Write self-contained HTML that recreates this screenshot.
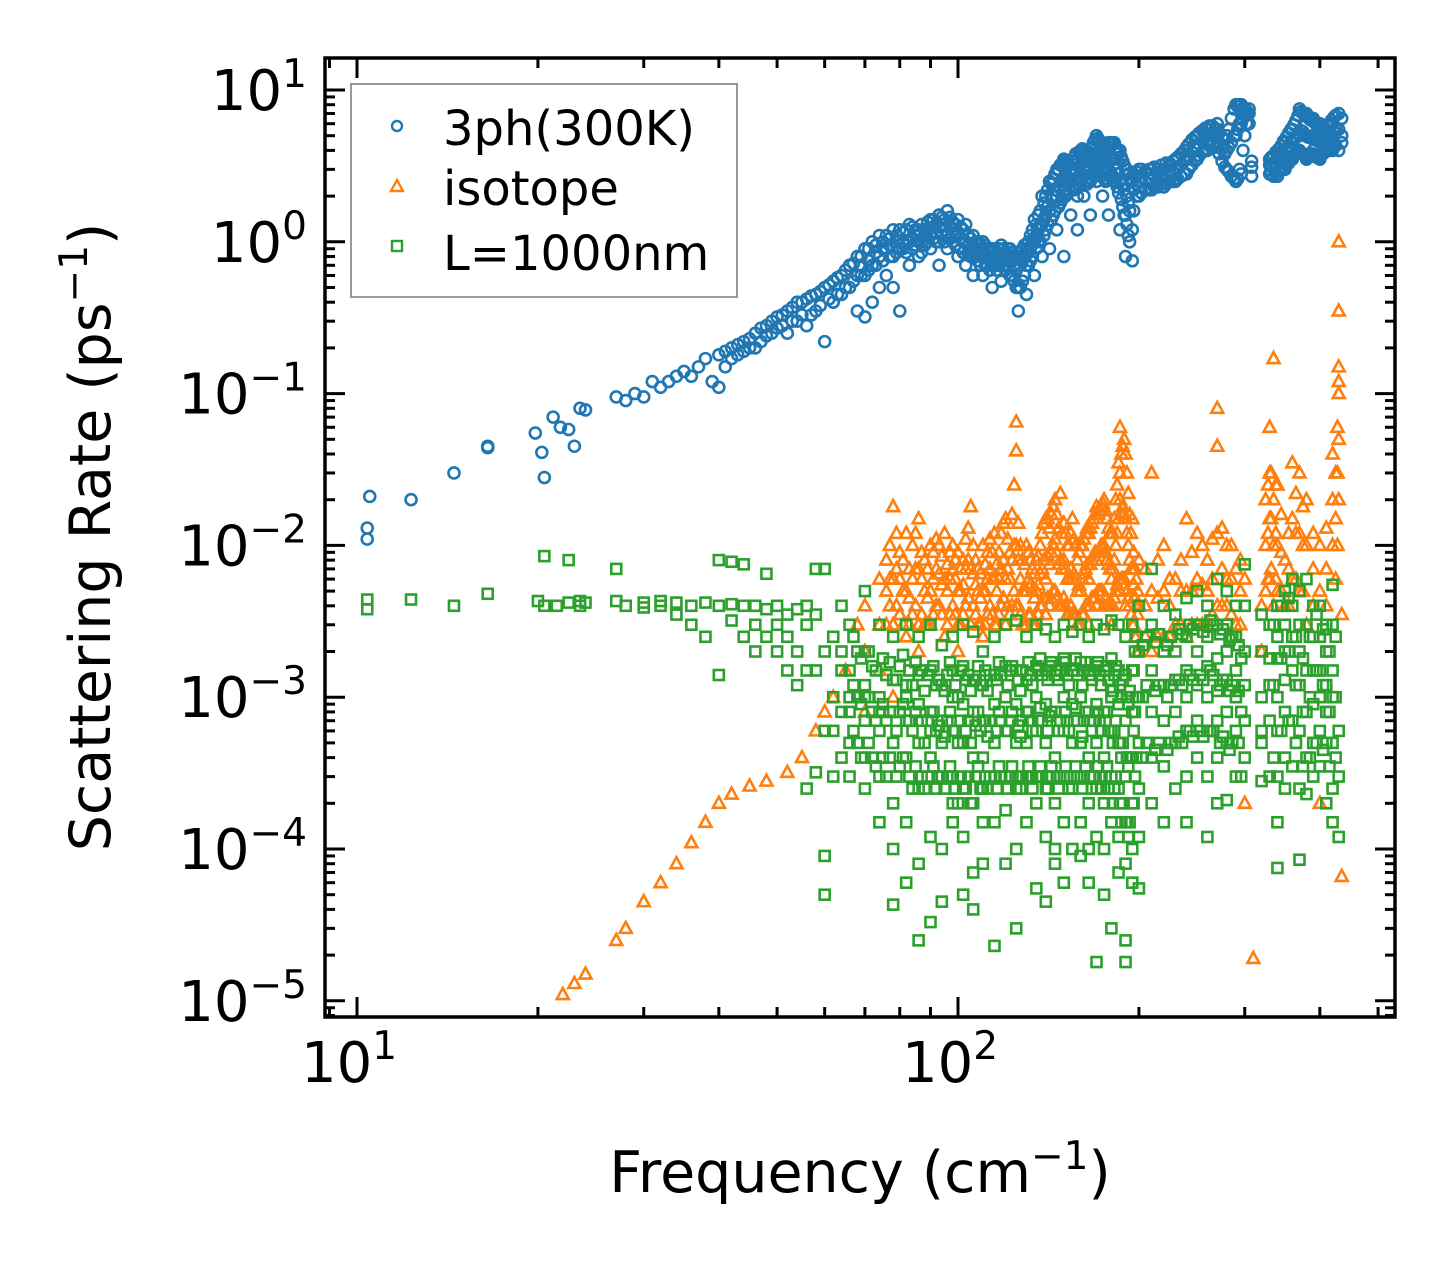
<!DOCTYPE html>
<html><head><meta charset="utf-8">
<style>
html,body{margin:0;padding:0;background:#fff;}
svg{display:block;}
text{font-family:"DejaVu Sans","Liberation Sans",sans-serif;fill:#000;}
</style></head>
<body>
<svg id="chart" width="1455" height="1265" viewBox="0 0 1455 1265" xmlns="http://www.w3.org/2000/svg">
<rect width="1455" height="1265" fill="#fff"/>
<g id="marks"></g>
<g id="ticks"></g>
<rect x="325" y="58" width="1070" height="959" fill="none" stroke="#000" stroke-width="3.5"/>
<g id="xlabels"></g>
<g id="ylabels"></g>
<text x="860" y="1192" font-size="57" text-anchor="middle">Frequency (cm<tspan dy="-23" font-size="39">−1</tspan><tspan dy="23">)</tspan></text>
<text transform="translate(110,537) rotate(-90)" font-size="57" text-anchor="middle">Scattering Rate (ps<tspan dy="-23" font-size="39">−1</tspan><tspan dy="23">)</tspan></text>
<g>
<rect x="351" y="84" width="386" height="213" fill="#fff" stroke="#999" stroke-width="2"/>
<circle cx="397" cy="126" r="5" fill="none" stroke="#1f77b4" stroke-width="2.4"/>
<text x="443" y="145" font-size="48">3ph(300K)</text>
<path d="M397,180 L403,191 L391,191 Z" fill="none" stroke="#ff7f0e" stroke-width="2.4"/>
<text x="443" y="205" font-size="48">isotope</text>
<rect x="392" y="241" width="10" height="10" fill="none" stroke="#2ca02c" stroke-width="2.4"/>
<text x="443" y="270" font-size="48">L=1000nm</text>
</g>
</svg>
<script>
// ---- data ----
const xTickDecades=[1,2];
const yTickDecades=[1,0,-1,-2,-3,-4,-5];
const blueX=[10.4,10.5,12.3,14.5,16.5,19.8,20.3,20.5,21.2,21.8,22.5,23,23.5,24,27,28,29,30,31,32,33,34,35,36,37,38,39,
40,42,44,46,48,50,52,54,56,58,60,62,64,66,68,70,72,74,76,78,80,83,86,90,93,96,100,103,106,110,114,118,122,126,130,134,138,142,146,150,154,158,162,166,170,174,178,182,186,190,195,200,210,220,230,240,250,260,270,280,290,296,305,330,340,350,360,370,380,390,400,410,420,430,435];
const blueY=[[0.011,0.013],[0.021],[0.02],[0.03],[0.045,0.044],[0.055],[0.041],[0.028],[0.07],[0.06],[0.058],[0.045],[0.08],[0.078],[0.095],[0.09],[0.1],[0.095],[0.12],[0.11],[0.12],[0.13],[0.14],[0.13],[0.15],[0.17],[0.12],
[0.11,0.18],[0.17,0.2],[0.19,0.22],[0.2,0.25],[0.24,0.28],[0.27,0.32],[0.25,0.35],[0.3,0.4],[0.28,0.42],[0.35,0.45],[0.22,0.5],[0.4,0.55],[0.45,0.6],[0.5,0.7],[0.35,0.8,0.6],[0.32,0.9,0.6],[0.4,1.0,0.7],[0.5,1.1,0.8],[0.6,1.1,0.9],[0.8,1.2,0.5],[0.35,1.2,0.9],[0.7,1.3,1.0],[0.8,1.2,1.0],[0.9,1.4,1.1],[0.7,1.5,1.0],[1.1,1.6,0.9],[0.8,1.4,1.1],[0.7,1.3,1.0],[0.6,1.1,0.9],[0.6,1.0,0.8],[0.5,0.9,0.7],[0.55,0.95,0.8],[0.6,0.9,0.75],[0.35,0.8,0.5],[0.45,0.9,0.7],[0.6,1.4,1.0],[0.8,2.0,1.3],[0.9,2.5,1.6],[1.2,3.0,2.0],[0.8,3.5,2.2],[1.5,3.0,2.5],[1.2,3.5,2.0],[2,4,3],[1.5,3.5,2.5],[2.5,5,3.5],[2,4.5,3],[1.5,4.5,3],[2.5,4.5,3.5],[1.2,4,2.5],[0.8,3,1.5],[0.75,2.5,1.2],[2,3,2.5],[2.2,3,2.6],[2.3,3,2.6],[2.5,3.5,3],[2.8,4.2,3.5],[3.5,5,4.2],[4,5.5,5],[4.5,6,5.5],[3,5,4],[2.5,8,5],[2.8,8,6],[6,7.5,7],[2.8,3.5,3.2],[2.7,3.8,3.2],[3,4.5,3.5],[3.5,5.5,4.5],[4,7.5,5],[3.5,7,5],[4,6.5,5],[3.5,6,4.5],[4,5.5,4.5],[4,6,5],[4,7,5.5],[4.5,6.5,5]];
const blueX2=[41,43,45,47,49,51,53,55,57,59,61,63,65,67,69,71,73,75,77,79,81,82,84,85,87,88,89,91,92,94,95,97,98,99,101,102,104,105,107,108,109,111,112,113,115,116,117,119,120,121,123,124,125,127,128,129,131,132,133,135,136,137,139,140,141,143,144,145,147,148,149,151,152,153,155,156,157,159,160,161,163,164,165,167,168,169,171,172,173,175,176,177,179,180,181,183,184,185,187,188,189,191,192,193,196,198,202,205,208,212,215,218,222,225,228,232,235,238,242,245,248,252,255,258,262,265,268,272,275,278,282,285,288,292,294,298,300,302,308,332,335,338,342,345,348,352,355,358,362,365,368,372,375,378,382,385,388,392,395,398,402,405,408,412,415,418,422,425,428,432];
const blueY2=[[0.15,0.19],[0.18,0.21],[0.2,0.23],[0.22,0.27],[0.25,0.3],[0.28,0.33],[0.3,0.37],[0.33,0.4],[0.33,0.44],[0.38,0.47],[0.42,0.52],[0.45,0.58],[0.5,0.65],[0.55,0.72],[0.6,0.8,0.7],[0.65,0.9,0.75],[0.7,0.95,0.85],[0.75,1.0,0.9],[0.8,1.05,0.95],[0.85,1.1,1.0],[0.9,1.15,1.0],[0.95,1.2,0.85],[0.9,1.25,1.05],[0.95,1.1,1.2],[1.0,1.3,0.85],[0.95,1.2,1.1],[1.0,1.35,1.2],[1.05,1.4,1.25],[1.0,1.3,1.15],[1.1,1.45,1.3],[1.0,1.4,1.2],[1.05,1.45,1.25],[1.0,1.35,1.2],[0.95,1.3,1.15],[0.9,1.25,1.05],[0.85,1.2,1.0],[0.85,1.1,0.95],[0.8,1.05,0.9],[0.8,1.0,0.9],[0.75,1.0,0.85],[0.7,0.95,0.85],[0.7,0.95,0.8],[0.7,0.9,0.8],[0.65,0.9,0.75],[0.7,0.9,0.8],[0.65,0.85,0.75],[0.7,0.9,0.8],[0.7,0.9,0.8],[0.65,0.85,0.75],[0.7,0.9,0.8],[0.6,0.85,0.75],[0.55,0.8,0.7],[0.5,0.8,0.65],[0.5,0.85,0.7],[0.55,0.9,0.75],[0.6,0.95,0.8],[0.7,1.0,0.85],[0.75,1.1,0.9],[0.8,1.2,1.0],[0.9,1.3,1.1],[1.0,1.5,1.2],[1.0,1.6,1.3],[1.1,1.8,1.4],[1.2,2.0,1.5],[1.3,2.2,1.7],[1.4,2.4,1.9],[1.5,2.6,2.0],[1.6,2.8,2.2],[1.7,3.0,2.3],[1.8,3.2,2.5],[1.9,3.3,2.6],[2.0,3.4,2.7],[2.1,3.3,2.7],[2.2,3.2,2.6],[2.3,3.4,2.8],[2.2,3.6,2.9],[2.3,3.8,3.0],[2.4,3.9,3.1],[2.5,4.0,3.2],[2.6,4.1,3.3],[2.5,4.0,3.2],[2.4,3.8,3.1],[2.5,3.9,3.1],[2.6,4.2,3.3],[2.8,4.5,3.5],[2.9,4.7,3.7],[2.9,4.8,3.8],[2.8,4.6,3.6],[2.7,4.4,3.5],[2.6,4.3,3.4],[2.5,4.2,3.3],[2.6,4.3,3.4],[2.7,4.4,3.5],[2.8,4.5,3.6],[2.7,4.4,3.5],[2.5,4.2,3.3],[2.3,4.0,3.0],[2.1,3.8,2.8],[1.9,3.6,2.6],[1.7,3.4,2.4],[1.5,3.2,2.2],[1.3,3.0,2.0],[1.1,2.8,1.8],[1.0,2.6,1.6],[1.6,2.8,2.2],[2.0,2.9,2.4],[2.1,3.0,2.5],[2.2,2.9,2.5],[2.2,3.0,2.6],[2.3,3.1,2.7],[2.3,3.0,2.6],[2.4,3.2,2.8],[2.4,3.3,2.8],[2.5,3.3,2.9],[2.5,3.4,2.9],[2.6,3.6,3.1],[2.7,3.8,3.2],[2.8,4.0,3.4],[3.0,4.4,3.7],[3.2,4.7,3.9],[3.4,4.9,4.1],[3.7,5.2,4.4],[3.9,5.4,4.6],[4.1,5.6,4.9],[4.3,5.8,5.1],[4.4,5.8,5.2],[4.2,5.5,4.9],[3.8,5.2,4.5],[3.4,4.9,4.1],[3.1,4.7,3.8],[2.9,5.5,4.2],[2.7,6.5,4.5],[2.6,7.5,5.0],[2.6,7.8,5.5],[3.0,8.0,6.0],[4.0,7.6,6.5],[5.0,7.5,6.8],[6.0,7.3,7.0],[2.7,3.4,3.1],[2.8,3.6,3.2],[2.7,3.7,3.3],[2.8,3.9,3.3],[2.9,4.1,3.5],[3.0,4.3,3.6],[3.1,4.6,3.8],[3.2,4.9,4.0],[3.3,5.2,4.2],[3.5,5.5,4.5],[3.7,5.9,4.7],[3.8,6.3,4.9],[3.9,6.8,5.2],[3.9,7.2,5.4],[3.8,7.0,5.3],[3.7,6.8,5.1],[3.6,6.6,4.9],[3.7,6.4,4.9],[3.8,6.3,4.8],[3.7,6.1,4.8],[3.6,5.9,4.7],[3.6,5.8,4.6],[3.7,5.7,4.6],[3.8,5.6,4.6],[3.9,5.6,4.7],[4.0,5.8,4.8],[4.0,6.0,4.9],[4.1,6.3,5.1],[4.2,6.6,5.3],[4.3,6.8,5.5]];
const isoX=[22,23,24,27,28,30,32,34,36,38,40,42,45,48,52,55,58,60,62,65,68,70,74,78,82,86,90,95,100,105,110,115,120,125,130,135,140,148,155,160,165,170,175,180,186,190,195,200,210,220,230,240,250,260,270,280,290,300,310,320,330,335,340,350,360,370,380,400,420,430,435];
const isoY=[[1.1e-5],[1.3e-5],[1.5e-5],[2.5e-5],[3e-5],[4.5e-5],[6e-5],[8e-5],[1.1e-4],[1.5e-4],[2e-4],[2.3e-4],[2.6e-4],[2.8e-4],[3.2e-4],[4e-4],[6e-4],[8e-4],[1e-3],[1.5e-3],[3e-3],[2e-3,4e-3,8e-4],[3e-3,6e-3,1.5e-3],[3e-3,1.8e-2,6e-3,1e-3],[2.5e-3,1.2e-2,5e-3],[3e-3,1.5e-2,7e-3,2e-3],[3e-3,1e-2,5e-3],[2.5e-3,1.2e-2,6e-3],[3e-3,9e-3,5e-3,2e-3],[3e-3,1.8e-2,7e-3],[2.5e-3,1e-2,5e-3],[3e-3,1.2e-2,6e-3],[3e-3,1.5e-2,6e-3],[4e-3,6.5e-2,4.2e-2,1e-2],[3e-3,1e-2,5e-3],[3e-3,8e-3,5e-3],[3.5e-3,1.5e-2,6e-3],[4e-3,2.2e-2,8e-3],[3.5e-3,1.5e-2,6e-3],[3e-3,1e-2,5e-3],[3e-3,1.2e-2,6e-3],[4e-3,1.8e-2,8e-3],[4e-3,2e-2,1e-2],[3e-3,1.2e-2,6e-3],[5e-3,6e-2,2e-2,3e-2],[4e-3,4e-2,1.5e-2],[3e-3,1.5e-2,7e-3],[2e-3,8e-3,4e-3],[2e-3,3e-2,5e-3],[2.5e-3,1e-2,5e-3],[3e-3,6e-3],[2.5e-3,1.5e-2,5e-3],[3e-3,1.2e-2,6e-3],[3e-3,8e-3,5e-3],[4e-3,8e-2,4.5e-2,1.2e-2],[4e-3,1e-2,6e-3],[3e-3,7e-3],[2e-4,6e-3],[1.9e-5],[2e-3,4e-3],[6e-3,6e-2,1.5e-2,3e-2],[0.17,2e-2,1e-2,4e-3],[5e-3,2.5e-2,1e-2],[4e-3,8e-3],[6e-3,3.5e-2,1.5e-2],[5e-3,3e-2,1.2e-2],[3e-3,1e-2,2e-2],[2e-4,1e-2,5e-3],[1e-2,4e-2,2e-2],[0.1,0.35,1.0,0.15,0.05,0.02,0.12],[6.6e-5,3.5e-3]];
const isoX2=[76,77,79,80,81,83,84,85,87,88,89,91,92,93,94,96,97,98,99,101,102,103,104,106,107,108,109,111,112,113,114,116,117,118,119,121,122,123,124,126,127,128,129,131,132,133,134,136,137,138,139,141,142,143,144,145,146,147,149,150,151,152,153,154,156,157,158,159,161,162,163,164,166,167,168,169,171,172,173,174,176,177,178,179,181,182,183,184,185,187,188,189,191,192,193,194,196,197,198,199,205,215,225,235,245,255,265,275,285,295,325,328,332,338,345,355,365,375,390,410,425,428];
const isoY2=[[3e-3,5e-3,8e-3],[4e-3,6e-3,1e-2],[4e-3,7e-3,1.2e-2],[3.5e-3,6e-3,9e-3],[3e-3,5e-3,8e-3],[3e-3,4.5e-3,7e-3],[3.5e-3,6e-3,1e-2],[4e-3,7e-3,1.2e-2],[3.5e-3,6e-3,9e-3],[3e-3,5e-3,8e-3],[3e-3,4.5e-3,7e-3],[3.5e-3,6e-3,9e-3],[4e-3,7e-3,1.1e-2],[4e-3,6.5e-3,1e-2],[3.5e-3,5.5e-3,8.5e-3],[3e-3,5e-3,7.5e-3],[3.5e-3,6e-3,9e-3],[4e-3,7e-3,1e-2],[3.5e-3,6e-3,8e-3],[3e-3,5e-3,7e-3],[3.5e-3,5.5e-3,8e-3],[4e-3,7e-3,1.1e-2],[4.5e-3,8e-3,1.3e-2],[4e-3,6.5e-3,1e-2],[3.5e-3,5.5e-3,8e-3],[3e-3,5e-3,7e-3],[3e-3,4.5e-3,6.5e-3],[3e-3,5e-3,7.5e-3],[3.5e-3,6e-3,9e-3],[4e-3,7e-3,1.1e-2],[3.5e-3,6e-3,9e-3],[3e-3,5e-3,7.5e-3],[3.5e-3,6e-3,9e-3],[4e-3,7e-3,1.2e-2],[4.5e-3,8e-3,1.4e-2],[4e-3,7e-3,1.1e-2],[3.5e-3,6e-3,9e-3],[4e-3,8e-3,1.6e-2],[5e-3,1e-2,2.5e-2],[4e-3,8e-3,1.4e-2],[3.5e-3,6e-3,1e-2],[3e-3,5e-3,8e-3],[3e-3,5e-3,7.5e-3],[3.5e-3,6e-3,9e-3],[3.5e-3,5.5e-3,8e-3],[3e-3,5e-3,7e-3],[3e-3,4.5e-3,6.5e-3],[3.5e-3,5.5e-3,8.5e-3],[4e-3,6.5e-3,1e-2],[4e-3,7e-3,1.2e-2],[4.5e-3,8e-3,1.4e-2],[4.5e-3,8.5e-3,1.5e-2],[4e-3,7.5e-3,1.3e-2],[4.5e-3,9e-3,1.6e-2],[5e-3,1e-2,1.8e-2],[5e-3,1.1e-2,2e-2],[4.5e-3,9e-3,1.6e-2],[4e-3,7.5e-3,1.3e-2],[4e-3,7e-3,1.2e-2],[4.5e-3,8e-3,1.4e-2],[4e-3,7e-3,1.2e-2],[3.5e-3,6e-3,1e-2],[3.5e-3,6e-3,1e-2],[4e-3,7e-3,1.2e-2],[3.5e-3,6.5e-3,1.1e-2],[3.5e-3,6e-3,1e-2],[3e-3,5e-3,8e-3],[3e-3,5.5e-3,9e-3],[3.5e-3,6e-3,1e-2],[3.5e-3,6.5e-3,1.1e-2],[4e-3,7e-3,1.2e-2],[4e-3,7.5e-3,1.3e-2],[4e-3,7.5e-3,1.3e-2],[4.5e-3,8e-3,1.4e-2],[4.5e-3,8.5e-3,1.5e-2],[4.5e-3,9e-3,1.6e-2],[5e-3,9e-3,1.6e-2],[5e-3,9.5e-3,1.7e-2],[5e-3,1e-2,1.8e-2],[5e-3,1e-2,1.9e-2],[4.5e-3,9e-3,1.7e-2],[4e-3,8e-3,1.5e-2],[4e-3,7.5e-3,1.3e-2],[4e-3,7e-3,1.2e-2],[4e-3,7e-3,1.2e-2],[4.5e-3,8e-3,1.5e-2],[5e-3,1e-2,2e-2],[5.5e-3,1.2e-2,2.5e-2],[6e-3,1.5e-2,3.5e-2],[6e-3,1.6e-2,4e-2],[6e-3,1.8e-2,4.5e-2],[6e-3,1.6e-2,5e-2],[5e-3,1.2e-2,3e-2],[4.5e-3,1e-2,2.2e-2],[4e-3,8e-3,1.6e-2],[3.5e-3,7e-3,1.2e-2],[3e-3,5.5e-3,9e-3],[2.5e-3,4.5e-3,7e-3],[2.5e-3,4e-3,6e-3],[2e-3,3.5e-3,5e-3],[2.5e-3,4e-3,7e-3],[2.5e-3,4.5e-3,8e-3],[2.5e-3,4e-3,6e-3],[3e-3,5e-3,8e-3],[3e-3,5e-3,9e-3],[3e-3,5.5e-3,1e-2],[3.5e-3,6e-3,1.1e-2],[4e-3,7e-3,1.3e-2],[3.5e-3,6e-3,1e-2],[3e-3,5e-3,8e-3],[5e-3,1e-2,2e-2],[6e-3,1.2e-2,2.5e-2],[7e-3,1.5e-2,3e-2],[6e-3,1.2e-2,2.5e-2],[5e-3,9e-3,1.6e-2],[4e-3,7e-3,1.2e-2],[6e-3,1.2e-2,2.2e-2],[5e-3,1e-2,1.8e-2],[4e-3,7e-3,1.2e-2],[4e-3,7e-3,1.3e-2],[6e-3,1.5e-2,3e-2],[1e-2,3e-2,6e-2]];
const bdyX=[10.4,12.3,14.5,16.5,20,20.5,21.5,22.5,23.5,24,27,28,30,32,34,36,38,40,42,44,46,48,50,52,54,56,58,60,62,64,66,70,74,78,82,86,90,94,98,102,106,110,115,120,125,130,135,140,145,150,155,160,165,170,175,180,185,190,195,200,210,220,230,240,250,260,270,280,290,300,320,330,340,350,360,370,380,390,400,410,420,430,435];
const bdyY=[[4.4e-3,3.8e-3],[4.4e-3],[4e-3],[4.8e-3],[4.3e-3],[8.5e-3,4e-3],[4e-3],[4.2e-3,8e-3],[4.3e-3,4e-3],[4.2e-3],[7e-3,4.3e-3],[4e-3],[4.2e-3,3.9e-3],[4.3e-3,4e-3],[4.2e-3,3.5e-3],[4e-3,3e-3],[4.2e-3,2.5e-3],[1.4e-3,4e-3,8e-3],[4.1e-3,3.2e-3,7.8e-3],[4e-3,2.5e-3,7.5e-3],[4e-3,3e-3,2e-3],[3.8e-3,2.5e-3,6.5e-3],[4e-3,3e-3,2e-3],[3.5e-3,1.5e-3,2.5e-3],[3.8e-3,2e-3,1.2e-3],[3e-3,1.5e-3,4e-3,2.5e-4],[3.5e-3,1.5e-3,7e-3,3.2e-4],[2e-3,5e-5,9e-5,7e-3,6e-4],[2.5e-3,1e-3,6e-4,3e-4],[1.5e-3,8e-4,4e-3,4e-4,2e-3],
[3e-3,1.5e-3,8e-4,5e-4,3e-4,1e-3],[2e-3,1.2e-3,7e-4,4e-4,2.5e-4,1e-3,5e-3],[3e-3,1e-3,6e-4,3e-4,1.5e-4,8e-4],[2.5e-3,1.3e-3,8e-4,5e-4,2e-4,1e-4,4.3e-5],[3e-3,1.2e-3,7e-4,4e-4,1.5e-4,1e-3,6e-5],[2.5e-3,1.4e-3,9e-4,5e-4,2.5e-4,8e-5,2.5e-5],[3e-3,1.5e-3,8e-4,4e-4,1.2e-4,6e-4,3.3e-5],[2.2e-3,1.2e-3,7e-4,3e-4,1e-4,5e-4,4.5e-5],[2.5e-3,1.5e-3,1e-3,6e-4,2e-4,3e-4,1.5e-4],[3e-3,1.6e-3,9e-4,5e-4,2.5e-4,1.2e-4,5e-5],[2.7e-3,1.3e-3,8e-4,4e-4,2e-4,7e-5,4e-5],[2e-3,1.2e-3,7e-4,4e-4,2.5e-4,1.5e-4,8e-5],[2.5e-3,1.4e-3,9e-4,5e-4,3e-4,1.5e-4,2.3e-5],[3e-3,1.6e-3,1e-3,6e-4,3e-4,1.8e-4,8e-5],[3.2e-3,1.5e-3,9e-4,5e-4,2.5e-4,1e-4,3e-5],[2.5e-3,1.3e-3,8e-4,5e-4,3e-4,1.5e-4],[3e-3,1.6e-3,1e-3,6e-4,3e-4,2e-4,5.5e-5],[2.8e-3,1.5e-3,9e-4,5e-4,2.5e-4,1.2e-4,4.5e-5],[2.5e-3,1.4e-3,8e-4,4e-4,2e-4,1e-4,8e-5],[3e-3,1.8e-3,1e-3,6e-4,3e-4,1.5e-4,6e-5],[2.7e-3,1.5e-3,9e-4,5e-4,2.5e-4,1e-4],[3e-3,1.7e-3,1e-3,5e-4,3e-4,1.5e-4,9e-5],[2.5e-3,1.5e-3,8e-4,4e-4,2e-4,1e-4,6e-5],[3e-3,1.6e-3,9e-4,5e-4,2.5e-4,1.2e-4,1.8e-5],[2.8e-3,1.5e-3,8e-4,4e-4,2e-4,1e-4,5e-5],[3.2e-3,1.8e-3,1e-3,6e-4,3e-4,1.5e-4,3e-5],[3e-3,1.5e-3,9e-4,5e-4,2.5e-4,1.2e-4,7e-5],[2.5e-3,1.4e-3,7e-4,3e-4,1.5e-4,8e-5,1.8e-5,2.5e-5],[3e-3,1.5e-3,8e-4,4e-4,2e-4,1e-4,6e-5],[4e-3,2e-3,1e-3,5e-4,2.5e-4,1.2e-4,5.5e-5],[7e-3,3e-3,1.5e-3,8e-4,4e-4,2e-4],[4e-3,2e-3,1.2e-3,7e-4,3.5e-4,1.5e-4],[3.5e-3,2e-3,1.3e-3,8e-4,5e-4,2.5e-4],[4.5e-3,2.5e-3,1.5e-3,1e-3,6e-4,3e-4,1.5e-4],[5e-3,3e-3,2e-3,1.2e-3,7e-4,4e-4],[4e-3,2.5e-3,1.6e-3,1e-3,6e-4,3e-4,1.2e-4],[6e-3,3e-3,1.8e-3,1.1e-3,7e-4,4e-4,2e-4],[5e-3,3e-3,2e-3,1.3e-3,8e-4,5e-4,2.1e-4],[4e-3,2.5e-3,1.5e-3,1e-3,6e-4,3e-4],[7.5e-3,4e-3,2e-3,1.2e-3,7e-4,4e-4],[3.5e-3,2e-3,1e-3,6e-4,2.8e-4,5e-4],[3e-3,1.8e-3,1.2e-3,7e-4,3e-4],[4e-3,2.5e-3,1.8e-3,1e-3,6e-4,3e-4,1.5e-4,7.5e-5],[5e-3,3e-3,2e-3,1.3e-3,8e-4,4e-4,2.5e-4],[6e-3,4e-3,2.5e-3,1.5e-3,7e-4,3.5e-4],[5e-3,3e-3,2e-3,1.2e-3,6e-4,2.5e-4,8.5e-5],[6e-3,3e-3,1.5e-3,8e-4,4e-4,2.3e-4],[4e-3,2.5e-3,1.5e-3,9e-4,5e-4,3e-4],[4e-3,2.5e-3,1.5e-3,1e-3,6e-4,3.5e-4],[3e-3,2e-3,1.2e-3,8e-4,5e-4,2e-4],[5.5e-3,3e-3,1.5e-3,1e-3,5e-4,2.5e-4,1.5e-4],[1.2e-4,6e-4,3e-4]];
const bdyX2=[67,68,69,71,72,73,75,76,77,79,80,81,83,84,85,87,88,89,91,92,93,95,96,97,99,100,101,103,104,105,107,108,109,111,112,113,116,117,118,121,122,123,126,127,128,131,132,133,136,137,138,141,142,143,146,147,148,151,152,153,156,157,158,161,162,163,166,167,168,171,172,173,176,177,178,181,182,183,186,187,188,191,192,193,196,197,198,203,206,213,216,223,226,233,236,243,246,253,256,263,266,273,276,283,286,293,296,335,345,355,365,375,385,395,405,415,425];
const bdyY2=[[6e-4,1.2e-3,2.5e-3],[5e-4,1e-3,2e-3],[4e-4,9e-4,1.8e-3],[5e-4,1e-3,2e-3],[4e-4,8e-4,1.6e-3],[3.5e-4,7e-4,1.5e-3],[4e-4,9e-4,1.8e-3],[3e-4,7e-4,1.4e-3],[4e-4,8e-4,1.7e-3],[3e-4,6e-4,1.3e-3],[3.5e-4,8e-4,1.6e-3],[4e-4,9e-4,1.9e-3],[3e-4,7e-4,1.5e-3],[2.5e-4,6e-4,1.2e-3],[3.5e-4,8e-4,1.7e-3],[3e-4,7e-4,1.5e-3],[2.5e-4,5e-4,1.1e-3],[3e-4,7e-4,1.4e-3],[3.5e-4,8e-4,1.6e-3],[2.5e-4,6e-4,1.2e-3],[3e-4,6.5e-4,1.3e-3],[2.5e-4,5.5e-4,1.1e-3],[3e-4,7e-4,1.4e-3],[3.5e-4,8e-4,1.7e-3],[2.5e-4,6e-4,1.2e-3],[2e-4,5e-4,1e-3],[3e-4,7e-4,1.5e-3],[2.5e-4,6e-4,1.3e-3],[3e-4,7e-4,1.4e-3],[2e-4,5e-4,1.1e-3],[3e-4,6.5e-4,1.3e-3],[3.5e-4,8e-4,1.6e-3],[2.5e-4,6e-4,1.2e-3],[3e-4,7e-4,1.5e-3],[2.5e-4,5.5e-4,1.1e-3],[3e-4,7e-4,1.4e-3],[2.5e-4,6e-4,1.3e-3],[3.5e-4,8e-4,1.7e-3],[3e-4,7e-4,1.4e-3],[2.5e-4,6e-4,1.2e-3],[3e-4,7e-4,1.5e-3],[3.5e-4,8e-4,1.6e-3],[3e-4,6.5e-4,1.3e-3],[2.5e-4,5.5e-4,1.1e-3],[3e-4,7e-4,1.5e-3],[3.5e-4,8e-4,1.7e-3],[3e-4,7e-4,1.4e-3],[2.5e-4,6e-4,1.2e-3],[3e-4,7e-4,1.5e-3],[3.5e-4,8.5e-4,1.8e-3],[3e-4,7e-4,1.4e-3],[2.5e-4,6e-4,1.3e-3],[3e-4,7.5e-4,1.6e-3],[3.5e-4,8e-4,1.7e-3],[3e-4,7e-4,1.5e-3],[2.5e-4,6e-4,1.3e-3],[3e-4,7e-4,1.5e-3],[3.5e-4,8e-4,1.7e-3],[3e-4,7e-4,1.4e-3],[2.5e-4,6e-4,1.2e-3],[3e-4,7e-4,1.5e-3],[3.5e-4,8.5e-4,1.8e-3],[3e-4,7e-4,1.4e-3],[2.5e-4,5.5e-4,1.2e-3],[3e-4,7e-4,1.5e-3],[3.5e-4,8e-4,1.7e-3],[3e-4,7e-4,1.4e-3],[2.5e-4,6e-4,1.3e-3],[3e-4,7e-4,1.5e-3],[3.5e-4,8e-4,1.7e-3],[3e-4,7e-4,1.4e-3],[2.5e-4,6e-4,1.2e-3],[3e-4,7e-4,1.5e-3],[3.5e-4,8e-4,1.6e-3],[2.5e-4,6e-4,1.3e-3],[2e-4,5e-4,1.1e-3],[2.5e-4,6e-4,1.4e-3],[3e-4,7e-4,1.6e-3],[2e-4,5e-4,1.2e-3],[1.5e-4,4e-4,1e-3],[2e-4,5e-4,1.3e-3],[1.5e-4,4e-4,1e-3],[1.2e-4,3.5e-4,9e-4],[1.5e-4,4e-4,1.1e-3],[2e-4,6e-4,1.5e-3],[3e-4,8e-4,2e-3],[4e-4,1e-3,2.5e-3],[4e-4,1e-3,2.2e-3],[5e-4,1.2e-3,2.5e-3],[4.5e-4,1.1e-3,2.3e-3],[5e-4,1.2e-3,2.6e-3],[4.5e-4,1e-3,2.2e-3],[5e-4,1.2e-3,2.5e-3],[5.5e-4,1.3e-3,2.8e-3],[5e-4,1.2e-3,2.6e-3],[6e-4,1.4e-3,3e-3],[5.5e-4,1.3e-3,2.8e-3],[6e-4,1.4e-3,3e-3],[5.5e-4,1.3e-3,2.7e-3],[6e-4,1.5e-3,3.2e-3],[6e-4,1.4e-3,3e-3],[5e-4,1.2e-3,2.6e-3],[5.5e-4,1.3e-3,2.8e-3],[4.5e-4,1.1e-3,2.4e-3],[5e-4,1.2e-3,2.5e-3],[5e-4,1.1e-3,2.2e-3],[3e-4,8e-4,1.8e-3],[4e-4,1.2e-3,3e-3],[6e-4,1.8e-3,4e-3],[7e-4,2e-3,4.5e-3],[5e-4,1.2e-3,2.5e-3],[3.5e-4,8e-4,1.8e-3],[4e-4,1e-3,2.5e-3],[5e-4,1.5e-3,3.5e-3],[4.5e-4,1.2e-3,2.8e-3],[3.5e-4,8e-4,2e-3],[4e-4,1e-3,2.5e-3]];

// ---- axes ----
const L=325,R=1395,T=58,B=1017;
const x10=357,dX=601,y10=90,dY=151.8;
function sx(v){return x10+(Math.log10(v)-1)*dX;}
function sy(v){return y10+(1-Math.log10(v))*dY;}
const NS='http://www.w3.org/2000/svg';
function mk(tag,attrs,parent){const e=document.createElementNS(NS,tag);for(const k in attrs)e.setAttribute(k,attrs[k]);parent.appendChild(e);return e;}
const marks=document.getElementById('marks');
const ticks=document.getElementById('ticks');

for(let d=0;d<=2;d++){for(let m=1;m<=9;m++){const v=m*Math.pow(10,d);const x=sx(v);if(x<L||x>R)continue;const len=m===1?20:10;
const t1=mk('line',{x1:x,y1:B,x2:x,y2:B-len,stroke:'#000','stroke-width':3},ticks);


const t2=mk('line',{x1:x,y1:T,x2:x,y2:T+len,stroke:'#000','stroke-width':3},ticks);

}}
for(let d=-6;d<=1;d++){for(let m=1;m<=9;m++){const v=m*Math.pow(10,d);const y=sy(v);if(y<T||y>B)continue;const len=m===1?20:10;
const t1=mk('line',{x1:L,y1:y,x2:L+len,y2:y,stroke:'#000','stroke-width':3},ticks);


const t2=mk('line',{x1:R,y1:y,x2:R-len,y2:y,stroke:'#000','stroke-width':3},ticks);

}}
function labelText(parent,x,y,anchor,exp){
const t=mk('text',{x:x,y:y,'font-size':56,'text-anchor':anchor},parent);
const a=document.createElementNS(NS,'tspan');a.textContent='10';t.appendChild(a);
const b=document.createElementNS(NS,'tspan');b.setAttribute('dy','-23');b.setAttribute('font-size','39');b.textContent=exp;t.appendChild(b);
return t;}
const xl=document.getElementById('xlabels');
xTickDecades.forEach(d=>{const t=labelText(xl,sx(Math.pow(10,d))-8,1082,'middle',String(d));

});
const yl=document.getElementById('ylabels');
yTickDecades.forEach(d=>{const t=labelText(yl,307,sy(Math.pow(10,d))+20,'end',d<0?'−'+(-d):String(d));

});

function drawCircles(xs,ys){xs.forEach((x,i)=>(ys[i]||[]).forEach(y=>{const c=mk('circle',{cx:sx(x),cy:sy(y),r:5.5,fill:'none',stroke:'#1f77b4','stroke-width':2.6},marks);

}));}
function drawTris(xs,ys){xs.forEach((x,i)=>(ys[i]||[]).forEach(y=>{const X=sx(x),Y=sy(y);const p=mk('path',{d:'M'+X+','+(Y-6.5)+' L'+(X+6)+','+(Y+4.5)+' L'+(X-6)+','+(Y+4.5)+' Z',fill:'none',stroke:'#ff7f0e','stroke-width':2.6},marks);

}));}
function drawSquares(xs,ys){xs.forEach((x,i)=>(ys[i]||[]).forEach(y=>{const s=mk('rect',{x:sx(x)-5,y:sy(y)-5,width:10,height:10,fill:'none',stroke:'#2ca02c','stroke-width':2.6},marks);

}));}
drawCircles(blueX,blueY);drawCircles(blueX2,blueY2);
drawTris(isoX,isoY);drawTris(isoX2,isoY2);
drawSquares(bdyX,bdyY);drawSquares(bdyX2,bdyY2);
</script>
</body></html>
